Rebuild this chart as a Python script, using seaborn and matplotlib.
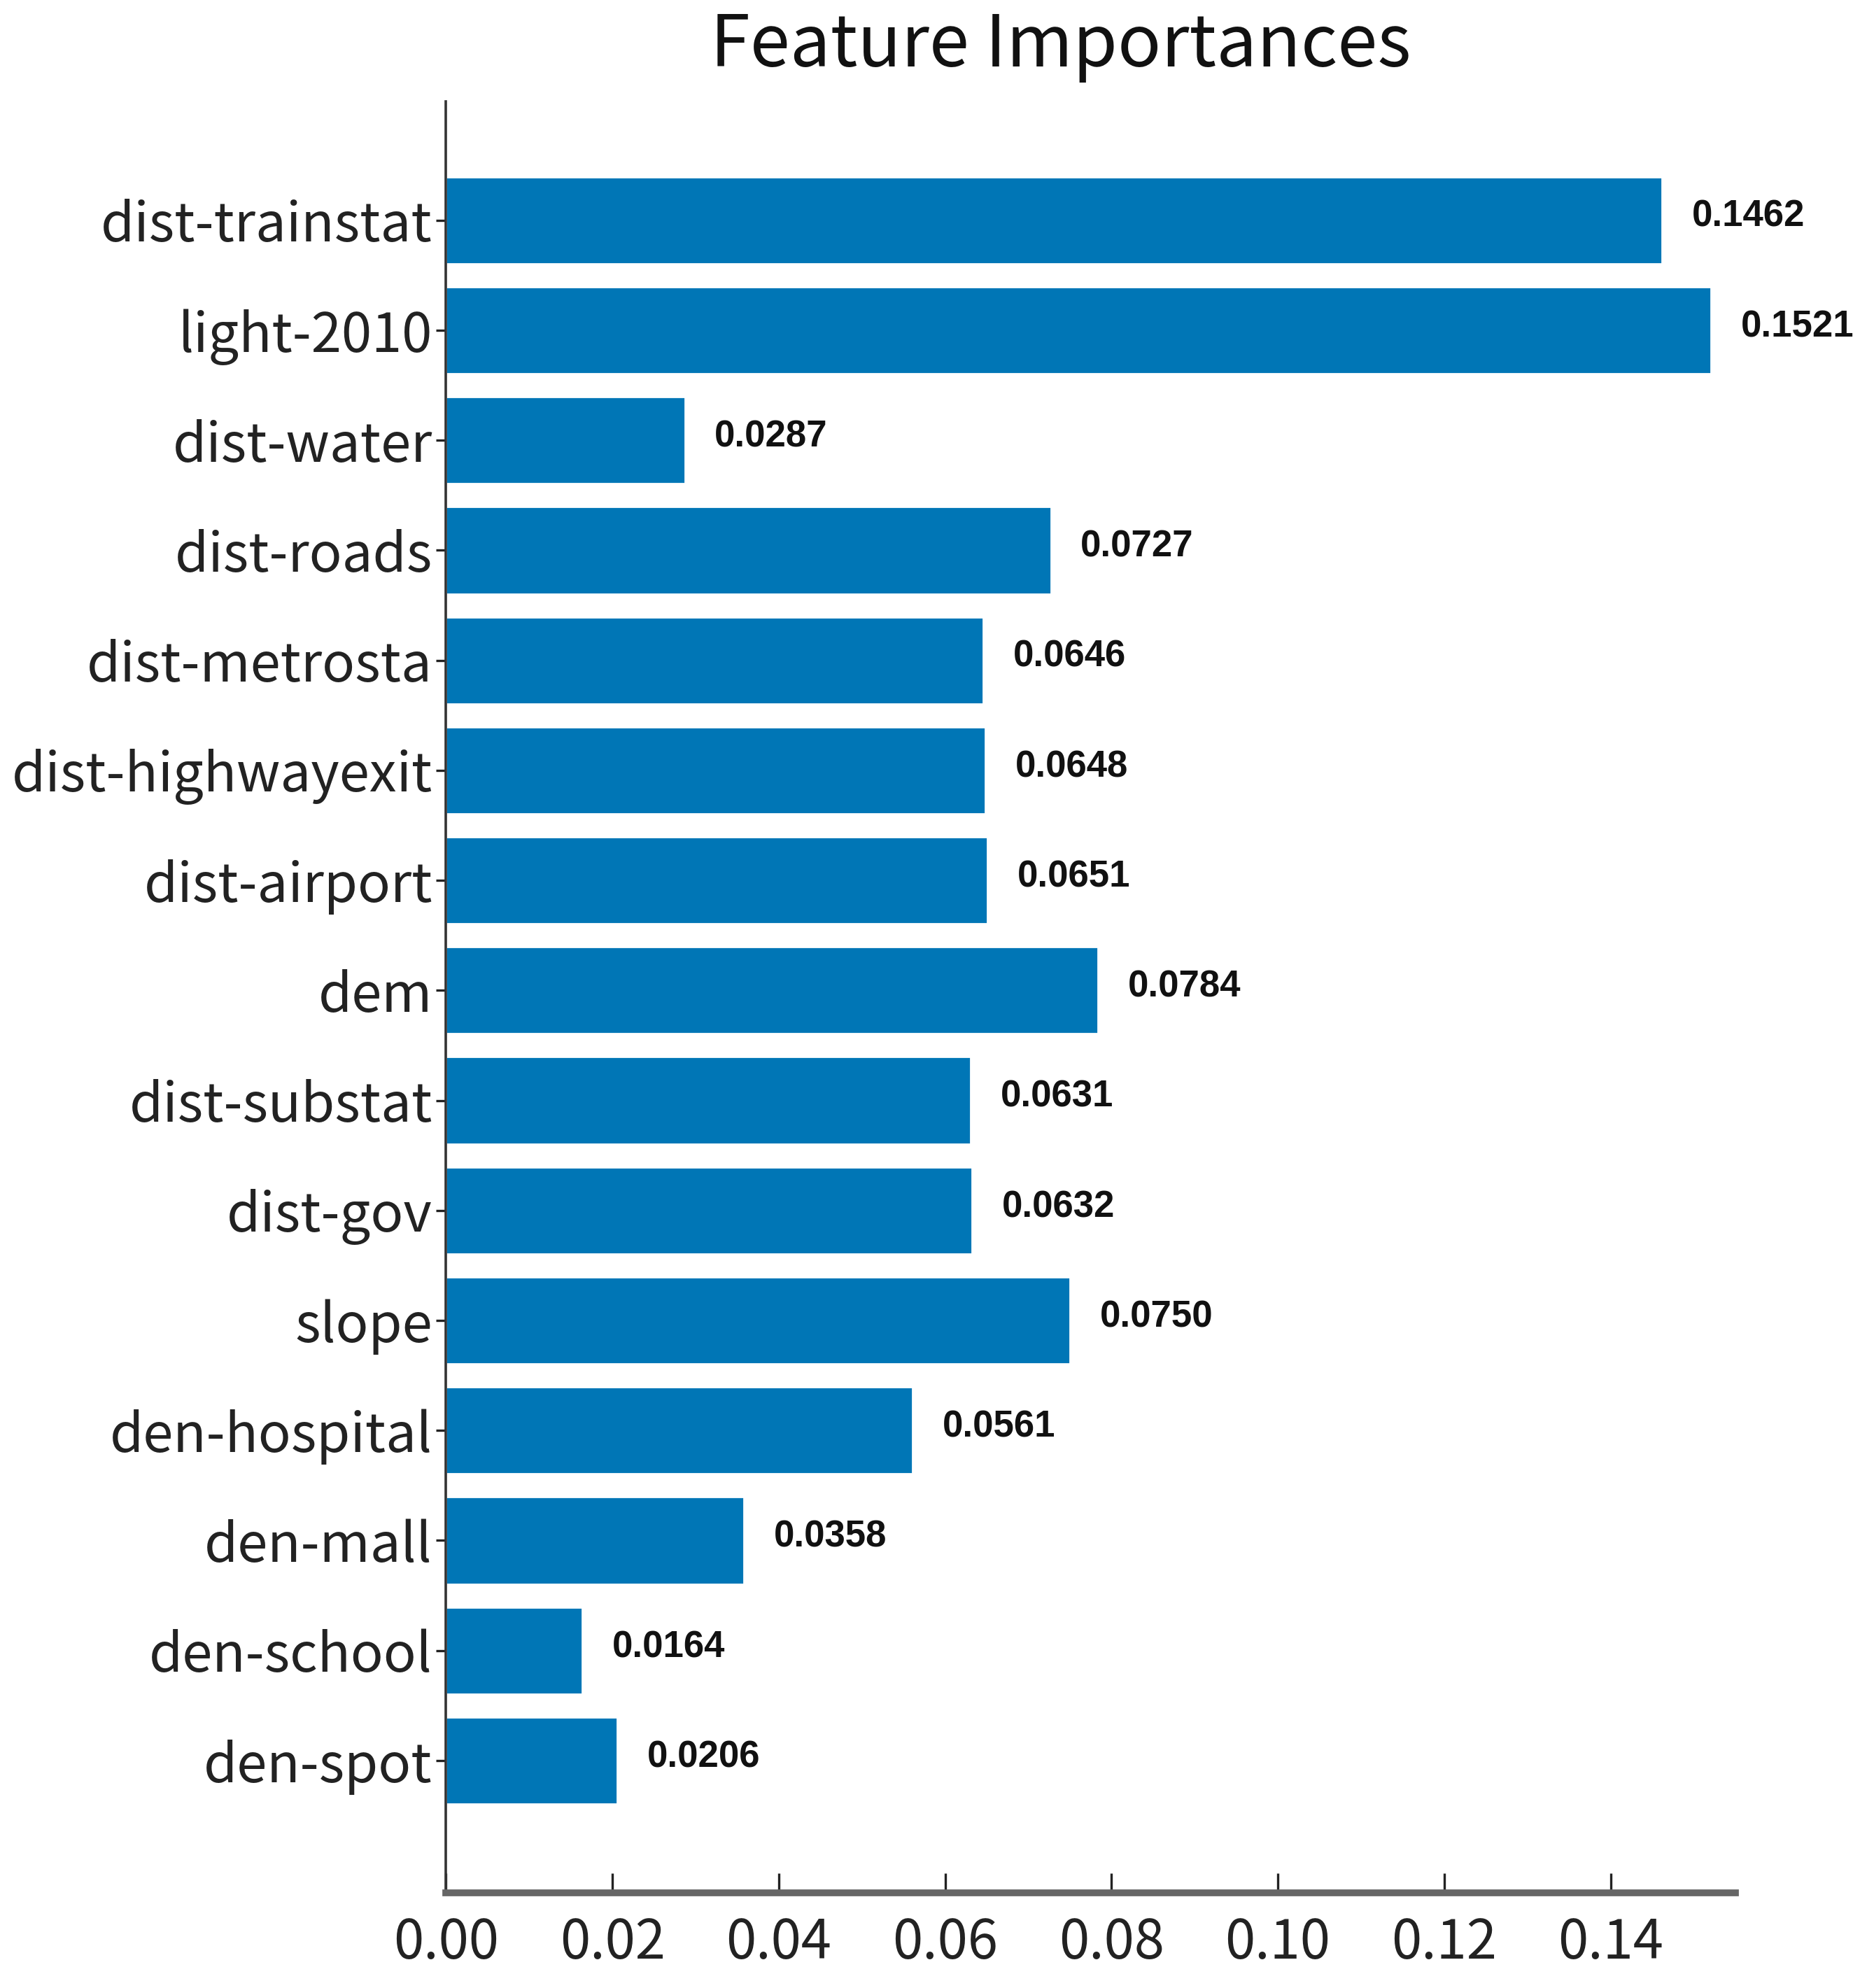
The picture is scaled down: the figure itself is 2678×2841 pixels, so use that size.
import matplotlib
matplotlib.use("Agg")
import matplotlib.pyplot as plt
import seaborn as sns
import pandas as pd

features = ["dist-trainstat", "light-2010", "dist-water", "dist-roads", "dist-metrosta",
            "dist-highwayexit", "dist-airport", "dem", "dist-substat", "dist-gov",
            "slope", "den-hospital", "den-mall", "den-school", "den-spot"]
importances = [0.1462, 0.1521, 0.0287, 0.0727, 0.0646,
               0.0648, 0.0651, 0.0784, 0.0631, 0.0632,
               0.0750, 0.0561, 0.0358, 0.0164, 0.0206]
xticks = [0.00, 0.02, 0.04, 0.06, 0.08, 0.10, 0.12, 0.14]

sns.set_style("ticks")
plt.rcParams['font.family'] = ['Noto Sans CJK SC', 'DejaVu Sans']

df = pd.DataFrame({"feature": features, "importance": importances})

fig = plt.figure(figsize=(13.39, 14.205), dpi=200)
ax = fig.add_axes([0.238, 0.048, 0.688, 0.901])

sns.barplot(data=df, x="importance", y="feature", orient="h", color="#0076b6",
            saturation=1, width=0.79, ax=ax)

for i, v in enumerate(importances):
    ax.text(v + 0.0036, i - 0.03, f"{v:.4f}", va="center", ha="left",
            fontsize=19, fontweight="bold", family="Liberation Sans", color="#111111")

ax.set_xlim(0, 0.155)
ax.set_ylim(15.2, -1.08)
ax.set_xticks(xticks)
ax.set_xticklabels([f"{t:.2f}" for t in xticks])
ax.set_xlabel("")
ax.set_ylabel("")
ax.tick_params(axis="x", direction="in", length=10, width=1.2, labelsize=28, pad=12, colors="#222222")
ax.tick_params(axis="y", direction="out", length=5, width=1.2, labelsize=28, pad=2, colors="#222222")
for lab in ax.get_xticklabels() + ax.get_yticklabels():
    lab.set_fontweight("light")
for s in ["top", "right"]:
    ax.spines[s].set_visible(False)
ax.spines["left"].set_linewidth(1.3)
ax.spines["left"].set_color("#333333")
ax.spines["bottom"].set_linewidth(3.5)
ax.spines["bottom"].set_color("#666666")

fig.text(0.566, 0.977, "Feature Importances", ha="center", va="center", fontsize=37,
         fontweight="light", color="#111111")

fig.savefig("out.png", dpi=200)
